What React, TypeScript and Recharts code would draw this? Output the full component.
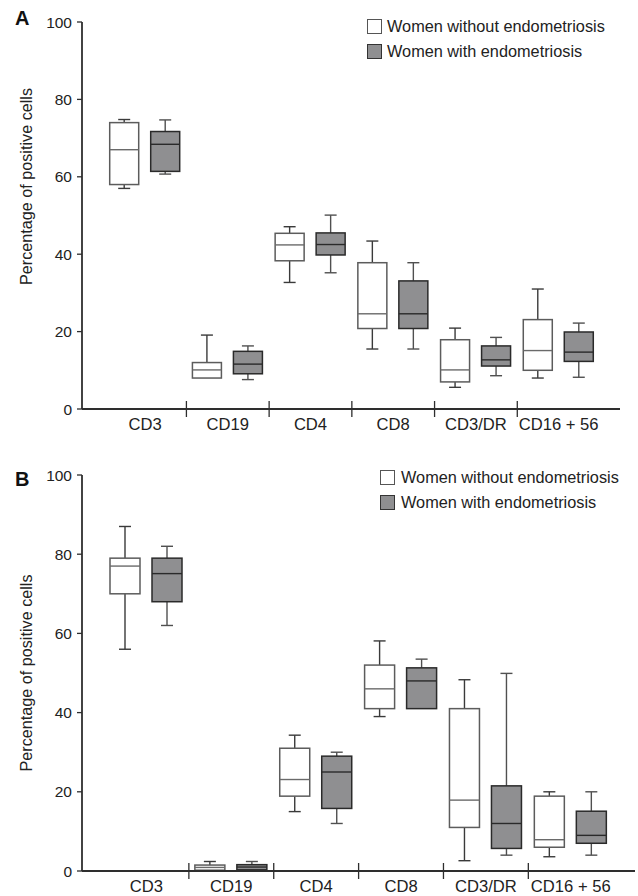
import React from 'react';
import { ComposedChart, Bar, XAxis, YAxis, Legend, Label } from 'recharts';

const categories = ['CD3', 'CD19', 'CD4', 'CD8', 'CD3/DR', 'CD16 + 56'];
const yTicks = [0, 20, 40, 60, 80, 100];
const seriesNames = ['Women without endometriosis', 'Women with endometriosis'];

// each entry: [min, q1, median, q3, max]
const panelAWithout = [
  [57, 58, 67, 74, 74.8],
  [8, 8, 10.1, 12, 19.1],
  [32.7, 38.3, 42.4, 45.4, 47.1],
  [15.5, 20.8, 24.6, 37.8, 43.4],
  [5.6, 7, 10.1, 17.9, 20.9],
  [8, 10, 15.1, 23.1, 31],
];
const panelAWith = [
  [60.7, 61.4, 68.4, 71.7, 74.7],
  [7.6, 9.1, 11.6, 14.9, 16.3],
  [35.2, 39.8, 42.5, 45.5, 50.1],
  [15.5, 20.8, 24.6, 33.1, 37.8],
  [8.6, 11.1, 12.7, 16.3, 18.5],
  [8.2, 12.3, 14.7, 19.9, 22.2],
];
const panelBWithout = [
  [56, 70, 77, 79, 87],
  [0, 0.2, 0.9, 1.5, 2.4],
  [15, 18.9, 23.1, 31, 34.3],
  [39, 41, 46, 52, 58.1],
  [2.6, 11, 17.9, 41, 48.3],
  [3.6, 6, 7.9, 18.9, 20],
];
const panelBWith = [
  [62, 68, 75.1, 79, 82],
  [0, 0.3, 1, 1.6, 2.4],
  [12, 15.8, 25, 29, 30],
  [41, 41, 48, 51.3, 53.5],
  [4, 5.7, 12, 21.5, 49.9],
  [4, 7, 9, 15.1, 20],
];

const FONT = '"Liberation Sans", Arial, Helvetica, sans-serif';
const TEXT = '#222';
const AXIS = '#2e2e2e';
const GRAY_FILL = '#8f8f91';

const xTickValues = categories.flatMap((_, i) => (i === 0 ? [i + 0.5] : [i, i + 0.5]));

type BoxStyle = { fill: string; stroke: string; median: string; whisker: string };
const styleWithout: BoxStyle = { fill: '#ffffff', stroke: '#5c5c5c', median: '#6a6a6a', whisker: '#3a3a3a' };
const styleWith: BoxStyle = { fill: GRAY_FILL, stroke: '#2a2a2a', median: '#2a2a2a', whisker: '#505050' };

const makeBoxShape = (key: 'w' | 'e', st: BoxStyle) => (props: any) => {
  const { x, y, width, height, payload } = props;
  if (!payload || x == null) return <g />;
  const [mn, q1, md, q3, mx] = payload[key] as number[];
  const top = Math.min(y, y + height);
  const bot = Math.max(y, y + height);
  const span = mx - mn || 1;
  const py = (v: number) => bot - ((v - mn) / span) * (bot - top);
  const cx = x + width / 2;
  const cap = 6;
  const yq1 = py(q1);
  const yq3 = py(q3);
  const ymd = py(md);
  const ymn = py(mn);
  const ymx = py(mx);
  return (
    <g>
      {ymx < yq3 - 0.5 && (
        <g>
          <line x1={cx} x2={cx} y1={ymx} y2={yq3} stroke={st.whisker} strokeWidth={1.4} />
          <line x1={cx - cap} x2={cx + cap} y1={ymx} y2={ymx} stroke={st.whisker} strokeWidth={1.4} />
        </g>
      )}
      {ymn > yq1 + 0.5 && (
        <g>
          <line x1={cx} x2={cx} y1={yq1} y2={ymn} stroke={st.whisker} strokeWidth={1.4} />
          <line x1={cx - cap} x2={cx + cap} y1={ymn} y2={ymn} stroke={st.whisker} strokeWidth={1.4} />
        </g>
      )}
      <rect x={x} y={yq3} width={width} height={Math.max(yq1 - yq3, 0.5)} fill={st.fill} stroke={st.stroke} strokeWidth={1.5} />
      <line x1={x} x2={x + width} y1={ymd} y2={ymd} stroke={st.median} strokeWidth={1.4} />
    </g>
  );
};

const XTick = (props: any) => {
  const { x, y, payload } = props;
  const v = payload.value as number;
  if (Number.isInteger(v)) {
    return <line x1={x} x2={x} y1={y - 8} y2={y + 8} stroke={AXIS} strokeWidth={1.3} />;
  }
  return (
    <text x={x} y={y + 20.5} textAnchor="middle" fontSize={16.6} fill={TEXT} fontFamily={FONT}>
      {categories[Math.floor(v)]}
    </text>
  );
};

const LegendBox = ({ gap }: { gap: number }) => (
  <div style={{ fontFamily: FONT, fontSize: 16.3, color: TEXT }}>
    {seriesNames.map((n, i) => (
      <div key={n} style={{ display: 'flex', alignItems: 'center', height: 25, whiteSpace: 'nowrap' }}>
        <span
          style={{
            display: 'inline-block',
            width: 13,
            height: 13,
            border: '1px solid ' + (i === 0 ? '#555' : '#333'),
            background: i === 0 ? '#fff' : GRAY_FILL,
            marginRight: gap,
          }}
        />
        <span>{n}</span>
      </div>
    ))}
  </div>
);

const YLabel = (shift: number) => (props: any) => {
  const vb = props.viewBox || {};
  const lx = vb.x + 10;
  const ly = vb.y + vb.height / 2 + shift;
  return (
    <text
      x={lx}
      y={ly}
      transform={`rotate(-90, ${lx}, ${ly})`}
      textAnchor="middle"
      fontSize={16.2}
      fill={TEXT}
      fontFamily={FONT}
    >
      Percentage of positive cells
    </text>
  );
};

type PanelProps = {
  without: number[][];
  withE: number[][];
  height: number;
  margin: { top: number; right: number; bottom: number; left: number };
  xHeight: number;
  padding: { left: number; right: number };
  barSize: number;
  labelShift: number;
  legendPos: { left: number; top: number };
  legendGap: number;
};

const Panel = (p: PanelProps) => {
  const data = categories.map((c, i) => ({ name: c, x: i + 0.5, w: p.without[i], e: p.withE[i] }));
  return (
    <ComposedChart width={638} height={p.height} data={data} margin={p.margin} barGap={12}>
      <XAxis
        dataKey="x"
        type="number"
        domain={[0, 6]}
        ticks={xTickValues}
        interval={0}
        padding={p.padding}
        height={p.xHeight}
        tickLine={false}
        tickSize={0}
        tickMargin={0}
        tick={<XTick />}
        axisLine={{ stroke: AXIS, strokeWidth: 1.8 }}
      />
      <YAxis
        type="number"
        domain={[0, 100]}
        ticks={yTicks}
        interval={0}
        width={60}
        tickSize={5}
        tickMargin={5}
        tickLine={{ stroke: AXIS, strokeWidth: 1.3 }}
        axisLine={{ stroke: AXIS, strokeWidth: 1.8 }}
        tick={{ fontSize: 15.5, fill: TEXT, fontFamily: FONT }}
      >
        <Label content={YLabel(p.labelShift)} />
      </YAxis>
      <Legend
        layout="vertical"
        align="center"
        verticalAlign="middle"
        content={() => <LegendBox gap={p.legendGap} />}
        wrapperStyle={{ position: 'absolute', left: p.legendPos.left, top: p.legendPos.top, width: 'auto', height: 'auto' }}
      />
      <Bar
        name={seriesNames[0]}
        dataKey={(d: any) => [d.w[0], d.w[4]]}
        barSize={p.barSize}
        isAnimationActive={false}
        shape={makeBoxShape('w', styleWithout)}
      />
      <Bar
        name={seriesNames[1]}
        dataKey={(d: any) => [d.e[0], d.e[4]]}
        barSize={p.barSize}
        isAnimationActive={false}
        shape={makeBoxShape('e', styleWith)}
      />
    </ComposedChart>
  );
};

const PanelLetter = ({ letter, top }: { letter: string; top: number }) => (
  <div
    style={{
      position: 'absolute',
      left: 15,
      top,
      fontFamily: FONT,
      fontWeight: 'bold',
      fontSize: 20,
      lineHeight: '20px',
      color: '#111',
    }}
  >
    {letter}
  </div>
);

export default function App() {
  return (
    <div style={{ position: 'absolute', left: 0, top: 0, width: 638, height: 896, background: '#fff', overflow: 'hidden' }}>
      <div style={{ position: 'absolute', left: 0, top: 0 }}>
        <Panel
          without={panelAWithout}
          withE={panelAWith}
          height={440}
          margin={{ top: 22, right: 18, bottom: 1, left: 22 }}
          xHeight={30}
          padding={{ left: 21.7, right: 20 }}
          barSize={29}
          labelShift={-29}
          legendPos={{ left: 367, top: 13.5 }}
          legendGap={5}
        />
      </div>
      <div style={{ position: 'absolute', left: 0, top: 440 }}>
        <Panel
          without={panelBWithout}
          withE={panelBWith}
          height={456}
          margin={{ top: 35, right: 3, bottom: 0, left: 22 }}
          xHeight={25}
          padding={{ left: 22, right: 21.8 }}
          barSize={30}
          labelShift={0}
          legendPos={{ left: 380, top: 24.5 }}
          legendGap={6}
        />
      </div>
      <PanelLetter letter="A" top={8} />
      <PanelLetter letter="B" top={469} />
    </div>
  );
}
